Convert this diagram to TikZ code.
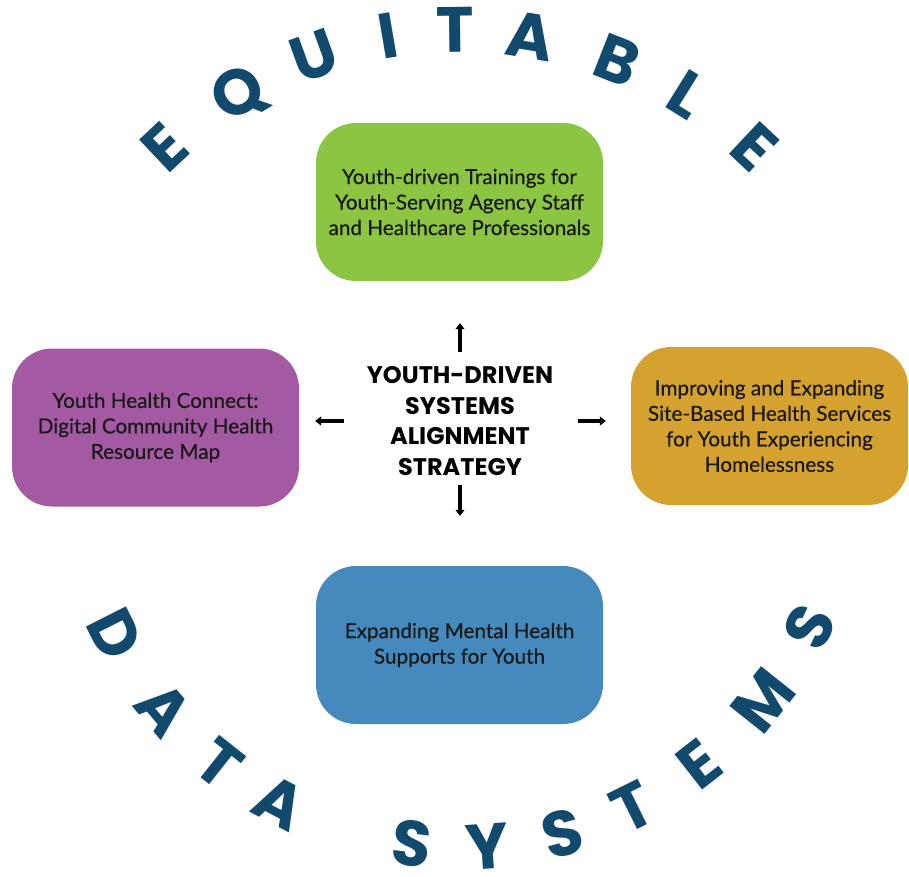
\documentclass[tikz,border=0pt]{standalone}
\usepackage{fontspec}
\setmainfont{Lato}
\newfontfamily\arcfont{Poppins}
\newfontfamily\boxfont{Lato}[FakeBold=0.5]
\usetikzlibrary{arrows.meta, calc}

\definecolor{equitynavy}{HTML}{124A6E}
\definecolor{traingreen}{HTML}{8BC541}
\definecolor{mappurple}{HTML}{A35AA3}
\definecolor{sitegold}{HTML}{D5A230}
\definecolor{mindblue}{HTML}{4589BD}

\begin{document}
\begin{tikzpicture} [
  x = 1pt,
  y = 1pt,
  box/.style = {
    rounded corners = 40pt,
    minimum width = 287pt,
    minimum height = 158pt,
    inner sep = 0pt,
    align = center,
    text = black!90,
    font = \boxfont\fontsize{20.7}{25.5}\selectfont,
  },
  arcletter/.style = {
    font = \arcfont\bfseries\fontsize{64}{64}\selectfont,
    text = equitynavy,
    inner sep = 0pt,
    text height = 45pt,
    text depth = 0pt,
  },
  spoke/.style = {
    line width = 3.5pt,
    -{Triangle[length = 6pt, width = 9pt]},
  },
]
\useasboundingbox (0, 0) rectangle (909, -876);

\node [box, fill = traingreen] (train) at (459.5, -202)
  {Youth-driven Trainings for\\Youth-Serving Agency Staff\\and Healthcare Professionals};
\node [box, fill = mappurple] (map) at (155.5, -427.5)
  {Youth Health Connect:\\Digital Community Health\\Resource Map};
\node [box, fill = sitegold, minimum width = 277pt] (site) at (769.5, -426)
  {Improving and Expanding\\Site-Based Health Services\\for Youth Experiencing\\Homelessness};
\node [box, fill = mindblue] (mind) at (459.5, -645)
  {Expanding Mental Health\\Supports for Youth};

\node [
  font = \arcfont\bfseries\fontsize{24}{30.5}\selectfont,
  align = center,
  inner sep = 0pt,
  minimum width = 180pt,
  minimum height = 110pt,
] (core) at (460, -421) {YOUTH-DRIVEN\\SYSTEMS\\ALIGNMENT\\STRATEGY};

\draw [spoke, shorten < = 14pt, shorten > = 42pt] (core.north) -- (core.north |- train.south);
\draw [spoke, shorten < = 9pt, shorten > = 50pt] (core.south) -- (core.south |- mind.north);
\draw [spoke, shorten < = 23pt, shorten > = 16pt] (core.west) -- (core.west -| map.east);
\draw [spoke, shorten < = 25pt, shorten > = 25pt] (core.east) -- (core.east -| site.west);

% letters round the ring
\coordinate (hub) at (460, -460);
\foreach \ch/\ang in {E/133.3, Q/121.1, U/109.9, I/99.7, T/90.7, A/80.6, B/68.5, L/58.1, E/46.8}
  \node [arcletter, rotate = \ang - 90] at ($(hub) + (\ang:430)$) {\ch};
\foreach \ch/\ang in {D/206.8, A/220.1, T/231.6, A/242.3, S/262.9, Y/274.0, S/285.4, T/296.4, E/308.1, M/321.5, S/334.5}
  \node [arcletter, rotate = \ang + 90] at ($(hub) + (\ang:387)$) {\ch};
\end{tikzpicture}
\end{document}
